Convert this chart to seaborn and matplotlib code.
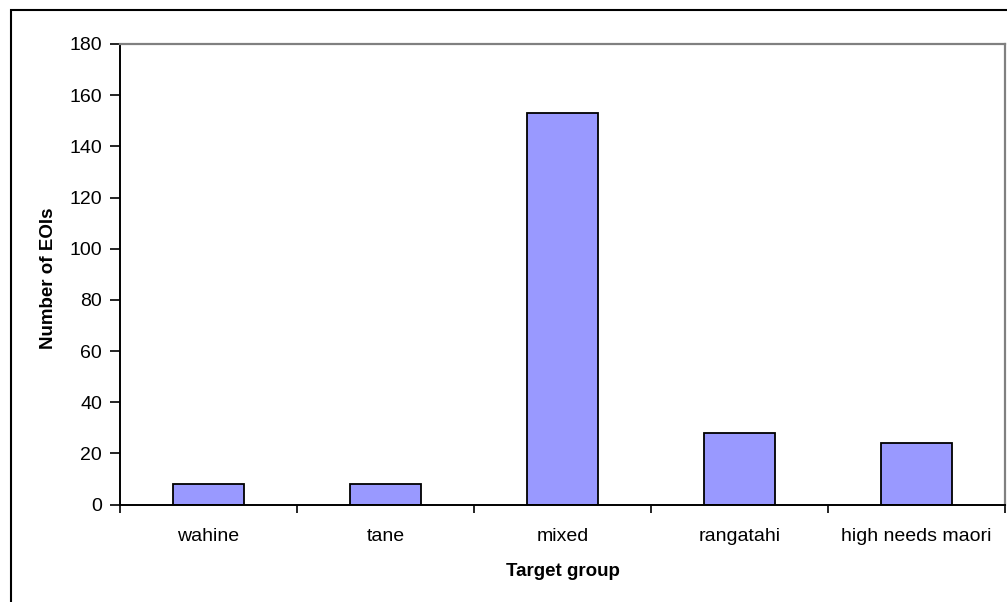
import matplotlib
matplotlib.use("Agg")
import matplotlib.pyplot as plt
import seaborn as sns
import pandas as pd
from matplotlib.patches import Rectangle
from matplotlib.ticker import FixedLocator, NullFormatter

groups = ["wahine", "tane", "mixed", "rangatahi", "high needs maori"]
eoi_counts = [8, 8, 153, 28, 24]
y_ticks = [0, 20, 40, 60, 80, 100, 120, 140, 160, 180]

sns.set_theme(style="white")
plt.rcParams["font.family"] = ["Liberation Sans", "DejaVu Sans"]
plt.rcParams.update({"text.color": "black", "axes.labelcolor": "black",
                     "xtick.color": "black", "ytick.color": "black"})

df = pd.DataFrame({"group": groups, "count": eoi_counts})

W, H = 1007, 602
fig = plt.figure(figsize=(W / 100, H / 100), dpi=100)
fig.patch.set_facecolor("white")

# chart-area frame (only left and top edges fall inside the image)
fig.patches.append(Rectangle((11 / W, -0.2), 1.5, 1 - 10 / H + 0.2,
                             transform=fig.transFigure, fill=False,
                             edgecolor="black", linewidth=1.5, clip_on=False))

ax = fig.add_axes([120 / W, 1 - 504.5 / H, (1005 - 120) / W, (504.5 - 44) / H])
sns.barplot(data=df, x="group", y="count", ax=ax, color="#9999FF",
            edgecolor="black", linewidth=1.3, width=0.4, saturation=1)

ax.set_xlim(-0.5, len(groups) - 0.5)
ax.set_ylim(0, 180)
ax.set_yticks(y_ticks)
ax.set_yticklabels([str(v) for v in y_ticks], fontsize=14)

# category boundaries carry the tick marks, labels sit between them
ax.xaxis.set_major_locator(FixedLocator([i - 0.5 for i in range(len(groups) + 1)]))
ax.xaxis.set_major_formatter(NullFormatter())
ax.xaxis.set_minor_locator(FixedLocator(list(range(len(groups)))))
ax.set_xticklabels(groups, minor=True, fontsize=14)
ax.tick_params(axis="x", which="minor", length=0, pad=17)
ax.tick_params(axis="x", which="major", direction="out", length=6, width=1.2,
               color="black", bottom=True)
ax.tick_params(axis="y", direction="out", length=7, width=1.2, color="black",
               left=True, pad=6)

for side in ("left", "bottom"):
    ax.spines[side].set_color("black")
    ax.spines[side].set_linewidth(1.4)
for side in ("top", "right"):
    ax.spines[side].set_visible(True)
    ax.spines[side].set_color("#808080")
    ax.spines[side].set_linewidth(1.6)

ax.set_xlabel("Target group", fontsize=13.5, fontweight="bold", labelpad=13)
ax.set_ylabel("Number of EOIs", fontsize=13.5, fontweight="bold")
ax.yaxis.set_label_coords(-0.071, 0.492)
ax.grid(False)

fig.savefig("out.png", dpi=100, facecolor="white")
